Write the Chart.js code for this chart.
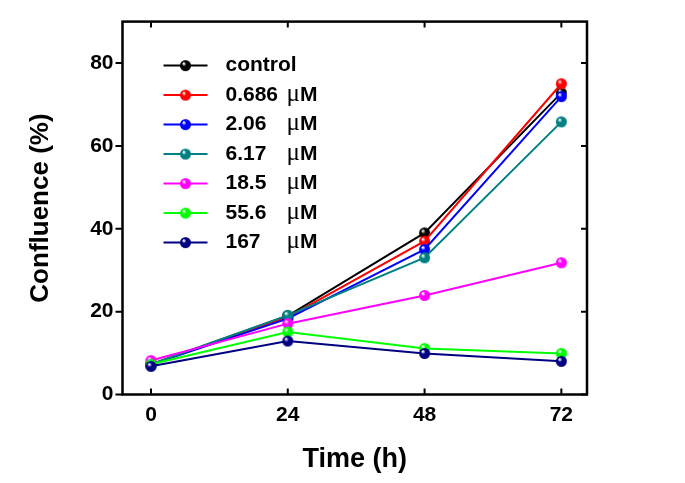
<!DOCTYPE html>
<html>
<head>
<meta charset="utf-8">
<script src="https://cdn.jsdelivr.net/npm/chart.js@4"></script>
<style>
  html, body { margin: 0; padding: 0; background: #fff; }
  #wrap { width: 685px; height: 483px; }
</style>
</head>
<body>
<div id="wrap"><canvas id="c"></canvas></div>
<script>
// data
const hours = [0, 24, 48, 72];
const xTicks = [0, 24, 48, 72];
const yTicks = [0, 20, 40, 60, 80];
const seriesNames = ['control', '0.686', '2.06', '6.17', '18.5', '55.6', '167'];
const seriesUnits = ['', 'μM', 'μM', 'μM', 'μM', 'μM', 'μM'];
const seriesColors = ['#000000', '#ff0000', '#0000ff', '#008080', '#ff00ff', '#00ff00', '#000080'];
const control = [7.2, 19.0, 39.0, 72.8];
const c0686 = [7.3, 18.7, 37.0, 75.0];
const c206 = [7.2, 18.3, 35.0, 71.9];
const c617 = [7.3, 19.1, 33.0, 65.8];
const c185 = [8.2, 17.1, 23.9, 31.8];
const c556 = [7.3, 15.1, 11.1, 9.9];
const c167 = [6.8, 12.9, 9.9, 8.0];
const seriesValues = [control, c0686, c206, c617, c185, c556, c167];

const FONT = "'Liberation Sans', Arial, sans-serif";

// little shaded balls for the markers
function ball(color, r) {
  const cv = document.createElement('canvas');
  cv.width = cv.height = r * 2 + 2;
  const g = cv.getContext('2d');
  const cx = r + 1, cy = r + 1;
  const grad = g.createRadialGradient(cx - r * 0.35, cy - r * 0.4, 0.5, cx, cy, r);
  grad.addColorStop(0, '#ffffff');
  grad.addColorStop(0.35, color);
  grad.addColorStop(1, color);
  g.fillStyle = grad;
  g.beginPath();
  g.arc(cx, cy, r, 0, Math.PI * 2);
  g.fill();
  return cv;
}

const balls = seriesColors.map(c => ball(c, 5.5));

const datasets = seriesNames.map((name, i) => ({
  label: name + (seriesUnits[i] ? ' ' + seriesUnits[i] : ''),
  data: hours.map((h, j) => ({ x: h, y: seriesValues[i][j] })),
  borderColor: seriesColors[i],
  backgroundColor: seriesColors[i],
  borderWidth: 2,
  pointStyle: balls[i],
  pointRadius: 5.5,
  tension: 0,
  order: seriesNames.length - i
}));

// frame, tick marks and legend
const decor = {
  id: 'decor',
  afterDatasetsDraw(chart) {
    const ctx = chart.ctx;
    const a = chart.chartArea;
    const xs = chart.scales.x, ys = chart.scales.y;
    ctx.save();
    ctx.strokeStyle = '#000';
    ctx.lineWidth = 2;
    xTicks.forEach(v => {
      const px = xs.getPixelForValue(v);
      ctx.beginPath();
      ctx.moveTo(px, a.bottom); ctx.lineTo(px, a.bottom - 6);
      ctx.moveTo(px, a.top); ctx.lineTo(px, a.top + 6);
      ctx.stroke();
    });
    yTicks.forEach(v => {
      const py = ys.getPixelForValue(v);
      ctx.beginPath();
      ctx.moveTo(a.left - 7, py); ctx.lineTo(a.left, py);
      ctx.moveTo(a.right, py); ctx.lineTo(a.right - 6, py);
      ctx.stroke();
    });
    ctx.lineWidth = 2.5;
    ctx.strokeRect(a.left, a.top, a.right - a.left, a.bottom - a.top);

    // legend
    const lx = a.left + 41, ly = a.top + 44, step = 29.5;
    ctx.textBaseline = 'middle';
    seriesNames.forEach((name, i) => {
      const y = ly + i * step;
      ctx.strokeStyle = seriesColors[i];
      ctx.lineWidth = 2;
      ctx.beginPath();
      ctx.moveTo(lx, y); ctx.lineTo(lx + 44, y);
      ctx.stroke();
      ctx.drawImage(balls[i], lx + 22 - balls[i].width / 2, y - balls[i].height / 2);
      ctx.fillStyle = '#000';
      ctx.font = 'bold 21px ' + FONT;
      ctx.textAlign = 'left';
      ctx.fillText(name, lx + 62, y);
      if (seriesUnits[i]) {
        ctx.font = "25px 'Liberation Serif', serif";
        ctx.fillText('μ', lx + 123, y - 1);
        const w = ctx.measureText('μ').width;
        ctx.font = 'bold 21px ' + FONT;
        ctx.fillText('M', lx + 123 + w, y);
      }
    });
    ctx.restore();
  }
};

new Chart(document.getElementById('c'), {
  type: 'line',
  data: { datasets: datasets },
  options: {
    responsive: true,
    maintainAspectRatio: false,
    animation: false,
    layout: { padding: { left: 0, top: 18, right: 98, bottom: 0 } },
    plugins: { legend: { display: false }, tooltip: { enabled: false } },
    scales: {
      x: {
        type: 'linear',
        min: -5,
        max: 76.5,
        afterBuildTicks: s => { s.ticks = xTicks.map(v => ({ value: v })); },
        afterFit: s => { s.height = 88.5; },
        grid: { display: false, drawTicks: false },
        border: { display: false },
        ticks: { color: '#000', padding: 8, font: { family: FONT, size: 21, weight: 'bold' } },
        title: {
          display: true, text: 'Time (h)', color: '#000',
          font: { family: FONT, size: 27, weight: 'bold', lineHeight: 1 },
          padding: { top: 0, bottom: 9.5 }
        }
      },
      y: {
        min: 0,
        max: 90,
        afterBuildTicks: s => { s.ticks = yTicks.map(v => ({ value: v })); },
        afterFit: s => { s.width = 122.5; },
        grid: { display: false, drawTicks: false },
        border: { display: false },
        ticks: { color: '#000', padding: 9, font: { family: FONT, size: 21, weight: 'bold' } },
        title: {
          display: true, text: 'Confluence (%)', color: '#000',
          font: { family: FONT, size: 26, weight: 'bold', lineHeight: 1 },
          padding: { top: 28, bottom: 0 }
        }
      }
    }
  },
  plugins: [decor]
});
</script>
</body>
</html>
